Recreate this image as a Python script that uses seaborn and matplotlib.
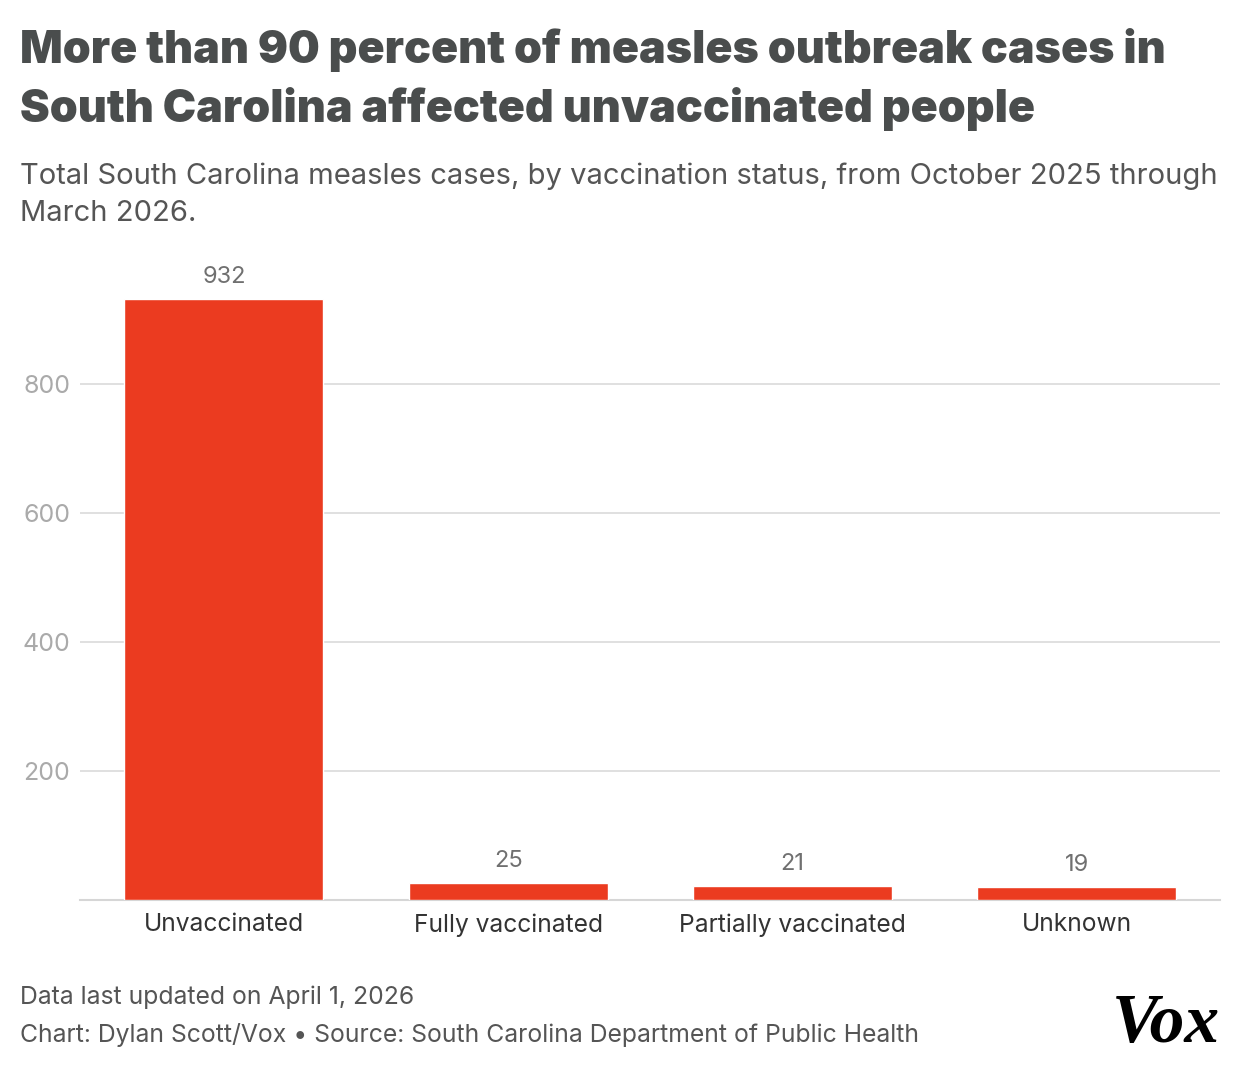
import matplotlib
matplotlib.use("Agg")
import matplotlib.pyplot as plt
import seaborn as sns
import pandas as pd

categories = ["Unvaccinated", "Fully vaccinated", "Partially vaccinated", "Unknown"]
cases = [932, 25, 21, 19]
y_ticks = [200, 400, 600, 800]

title = "More than 90 percent of measles outbreak cases in\nSouth Carolina affected unvaccinated people"
subtitle = "Total South Carolina measles cases, by vaccination status, from October 2025 through\nMarch 2026."
footer1 = "Data last updated on April 1, 2026"
footer2 = "Chart: Dylan Scott/Vox \u2022 Source: South Carolina Department of Public Health"

sns.set_theme(style="white")
plt.rcParams["font.family"] = ["Inter", "Roboto", "DejaVu Sans"]

df = pd.DataFrame({"status": categories, "cases": cases})

W, H = 1240, 1070
fig = plt.figure(figsize=(W / 100, H / 100), dpi=100)
left, right = 80 / W, 1220 / W
bottom = 1 - 899.5 / H
top = 1 - 255.7 / H
ax = fig.add_axes([left, bottom, right - left, top - bottom])

bar_color = "#EB3B20"
sns.barplot(data=df, x="status", y="cases", color=bar_color, width=0.70,
            saturation=1, ax=ax, zorder=3)
ax.set_xlim(-0.506, 3.503)
ax.set_ylim(0, 1000)

ax.set_yticks(y_ticks)
ax.set_yticklabels([str(v) for v in y_ticks])
ax.grid(axis="y", color="#dddddd", linewidth=1.3, zorder=0)
ax.grid(axis="x", visible=False)
for s in ["top", "right", "left"]:
    ax.spines[s].set_visible(False)
ax.spines["bottom"].set_color("#d6d6d6")
ax.spines["bottom"].set_linewidth(1.5)
ax.tick_params(axis="y", length=0, pad=7, labelsize=18, labelcolor="#aaaaaa")
ax.tick_params(axis="x", length=0, pad=10, labelsize=17.7, labelcolor="#333333")
ax.set_xlabel("")
ax.set_ylabel("")

for cont in ax.containers:
    ax.bar_label(cont, labels=[str(v) for v in cases], padding=8,
                 fontsize=17, color="#707070")

fig.text(20 / W, 1 - 28 / H, title, fontsize=32.2, fontweight="black",
         color="#4a4d4d", va="top", ha="left", linespacing=1.42)
fig.text(20 / W, 1 - 162 / H, subtitle, fontsize=21, fontweight="normal",
         color="#555555", va="top", ha="left", linespacing=1.5)
fig.text(20 / W, 1 - 997 / H, footer1, fontsize=17.8, color="#555555",
         va="center", ha="left")
fig.text(20 / W, 1 - 1035 / H, footer2, fontsize=17.8, color="#555555",
         va="center", ha="left")
fig.text(1220 / W, 1 - 1025 / H, "Vox", fontsize=50, fontweight="bold",
         fontstyle="italic", family=["Liberation Serif", "DejaVu Serif"],
         color="black", va="center", ha="right")

fig.savefig("out.png", dpi=100, facecolor="white")
